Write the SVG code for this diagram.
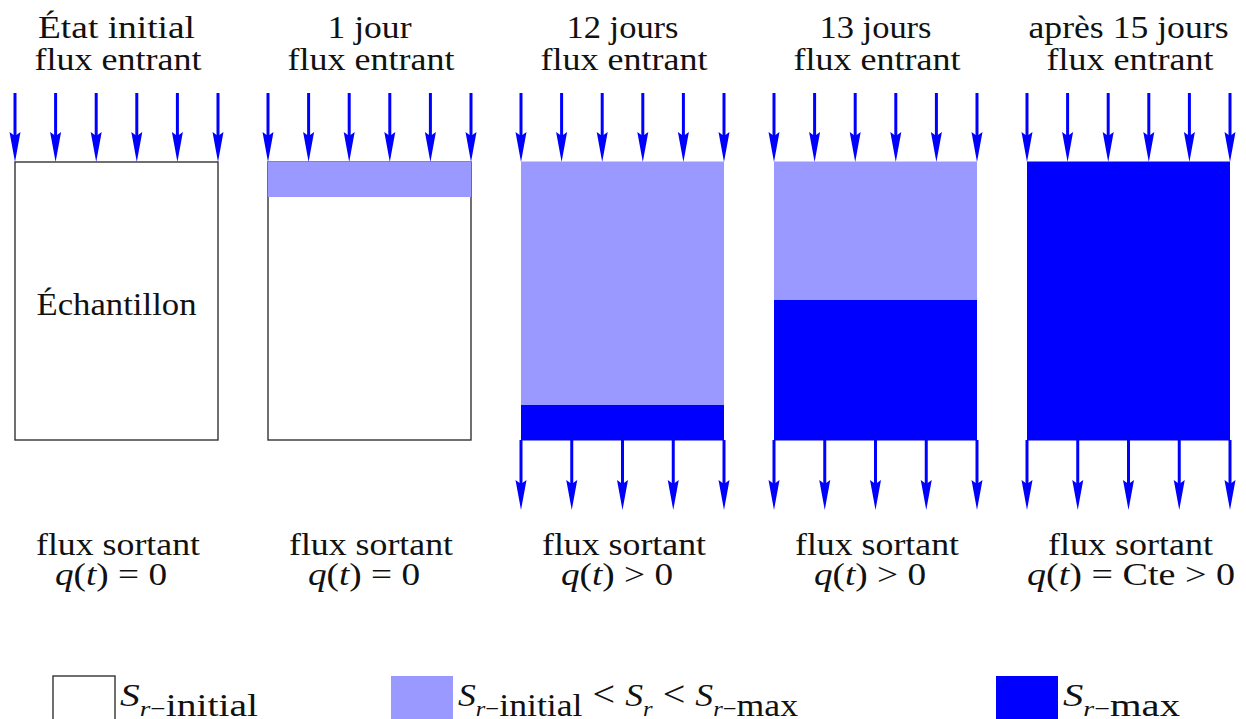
<svg xmlns="http://www.w3.org/2000/svg" width="1246" height="719" viewBox="0 0 1246 719">
<style>
  .t { font-family: "Liberation Serif", "Times New Roman", serif; font-size: 32px; fill: #111; text-anchor: middle; }
  .tl { font-family: "Liberation Serif", "Times New Roman", serif; font-size: 32px; fill: #111; }
  .it { font-style: italic; }
  .sub { font-size: 22px; }
  .rel { font-size: 36px; }
  .box { fill: #ffffff; stroke: #333; stroke-width: 1.4; }
  .light { fill: #9999ff; }
  .dark { fill: #0000ff; }
  .arr { stroke: #0000ff; stroke-width: 3; fill: none; marker-end: url(#ah); }
</style>
<defs>
  <marker id="ah" markerUnits="userSpaceOnUse" viewBox="0 0 30 12" markerWidth="30" markerHeight="12" refX="15" refY="6" orient="auto">
    <path d="M0,0.5 L30,6 L0,11.5 L4,6 Z" fill="#0000ff"/>
  </marker>
</defs>

<g id="panel1">
  <text class="t" x="116.5" y="38" textLength="157" lengthAdjust="spacingAndGlyphs">État initial</text>
  <text class="t" x="118" y="70" textLength="167" lengthAdjust="spacingAndGlyphs">flux entrant</text>
  <rect class="box" x="15" y="162" width="203" height="278"/>
  <text class="t" x="116.5" y="315" textLength="160" lengthAdjust="spacingAndGlyphs">Échantillon</text>
  <text class="t" x="118" y="555" textLength="164" lengthAdjust="spacingAndGlyphs">flux sortant</text>
  <text class="t" x="111" y="585" textLength="112" lengthAdjust="spacingAndGlyphs"><tspan class="it">q</tspan>(<tspan class="it">t</tspan>) = 0</text>
</g>

<g id="panel2">
  <text class="t" x="369.5" y="38" textLength="84" lengthAdjust="spacingAndGlyphs">1 jour</text>
  <text class="t" x="371" y="70" textLength="167" lengthAdjust="spacingAndGlyphs">flux entrant</text>
  <rect class="box" x="268" y="162" width="203" height="278"/>
  <rect class="light" x="268" y="161.5" width="203" height="35.5"/>
  <text class="t" x="371" y="555" textLength="164" lengthAdjust="spacingAndGlyphs">flux sortant</text>
  <text class="t" x="364" y="585" textLength="112" lengthAdjust="spacingAndGlyphs"><tspan class="it">q</tspan>(<tspan class="it">t</tspan>) = 0</text>
</g>

<g id="panel3">
  <text class="t" x="622.5" y="38" textLength="112" lengthAdjust="spacingAndGlyphs">12 jours</text>
  <text class="t" x="624" y="70" textLength="167" lengthAdjust="spacingAndGlyphs">flux entrant</text>
  <rect class="light" x="521" y="161.5" width="203" height="244"/>
  <rect class="dark" x="521" y="405" width="203" height="35.5"/>
  <text class="t" x="624" y="555" textLength="164" lengthAdjust="spacingAndGlyphs">flux sortant</text>
  <text class="t" x="617" y="585" textLength="112" lengthAdjust="spacingAndGlyphs"><tspan class="it">q</tspan>(<tspan class="it">t</tspan>) &gt; 0</text>
</g>

<g id="panel4">
  <text class="t" x="875.5" y="38" textLength="112" lengthAdjust="spacingAndGlyphs">13 jours</text>
  <text class="t" x="877" y="70" textLength="167" lengthAdjust="spacingAndGlyphs">flux entrant</text>
  <rect class="light" x="774" y="161.5" width="203" height="139"/>
  <rect class="dark" x="774" y="300" width="203" height="140.5"/>
  <text class="t" x="877" y="555" textLength="164" lengthAdjust="spacingAndGlyphs">flux sortant</text>
  <text class="t" x="870" y="585" textLength="112" lengthAdjust="spacingAndGlyphs"><tspan class="it">q</tspan>(<tspan class="it">t</tspan>) &gt; 0</text>
</g>

<g id="panel5">
  <text class="t" x="1128.5" y="38" textLength="200" lengthAdjust="spacingAndGlyphs">après 15 jours</text>
  <text class="t" x="1130" y="70" textLength="167" lengthAdjust="spacingAndGlyphs">flux entrant</text>
  <rect class="dark" x="1027" y="161.5" width="203" height="279"/>
  <text class="t" x="1130.5" y="555" textLength="165" lengthAdjust="spacingAndGlyphs">flux sortant</text>
  <text class="t" x="1131" y="585" textLength="208" lengthAdjust="spacingAndGlyphs"><tspan class="it">q</tspan>(<tspan class="it">t</tspan>) = Cte &gt; 0</text>
</g>

<g id="connectors">
  <line class="arr" x1="15" y1="93" x2="15" y2="147"/>
  <line class="arr" x1="55.6" y1="93" x2="55.6" y2="147"/>
  <line class="arr" x1="96.2" y1="93" x2="96.2" y2="147"/>
  <line class="arr" x1="136.8" y1="93" x2="136.8" y2="147"/>
  <line class="arr" x1="177.4" y1="93" x2="177.4" y2="147"/>
  <line class="arr" x1="218" y1="93" x2="218" y2="147"/>

  <line class="arr" x1="268" y1="93" x2="268" y2="147"/>
  <line class="arr" x1="308.6" y1="93" x2="308.6" y2="147"/>
  <line class="arr" x1="349.2" y1="93" x2="349.2" y2="147"/>
  <line class="arr" x1="389.8" y1="93" x2="389.8" y2="147"/>
  <line class="arr" x1="430.4" y1="93" x2="430.4" y2="147"/>
  <line class="arr" x1="471" y1="93" x2="471" y2="147"/>

  <line class="arr" x1="521" y1="93" x2="521" y2="147"/>
  <line class="arr" x1="561.6" y1="93" x2="561.6" y2="147"/>
  <line class="arr" x1="602.2" y1="93" x2="602.2" y2="147"/>
  <line class="arr" x1="642.8" y1="93" x2="642.8" y2="147"/>
  <line class="arr" x1="683.4" y1="93" x2="683.4" y2="147"/>
  <line class="arr" x1="724" y1="93" x2="724" y2="147"/>

  <line class="arr" x1="774" y1="93" x2="774" y2="147"/>
  <line class="arr" x1="814.6" y1="93" x2="814.6" y2="147"/>
  <line class="arr" x1="855.2" y1="93" x2="855.2" y2="147"/>
  <line class="arr" x1="895.8" y1="93" x2="895.8" y2="147"/>
  <line class="arr" x1="936.4" y1="93" x2="936.4" y2="147"/>
  <line class="arr" x1="977" y1="93" x2="977" y2="147"/>

  <line class="arr" x1="1027" y1="93" x2="1027" y2="147"/>
  <line class="arr" x1="1067.6" y1="93" x2="1067.6" y2="147"/>
  <line class="arr" x1="1108.2" y1="93" x2="1108.2" y2="147"/>
  <line class="arr" x1="1148.8" y1="93" x2="1148.8" y2="147"/>
  <line class="arr" x1="1189.4" y1="93" x2="1189.4" y2="147"/>
  <line class="arr" x1="1230" y1="93" x2="1230" y2="147"/>

  <line class="arr" x1="521" y1="440" x2="521" y2="495"/>
  <line class="arr" x1="571.75" y1="440" x2="571.75" y2="495"/>
  <line class="arr" x1="622.5" y1="440" x2="622.5" y2="495"/>
  <line class="arr" x1="673.25" y1="440" x2="673.25" y2="495"/>
  <line class="arr" x1="724" y1="440" x2="724" y2="495"/>

  <line class="arr" x1="774" y1="440" x2="774" y2="495"/>
  <line class="arr" x1="824.75" y1="440" x2="824.75" y2="495"/>
  <line class="arr" x1="875.5" y1="440" x2="875.5" y2="495"/>
  <line class="arr" x1="926.25" y1="440" x2="926.25" y2="495"/>
  <line class="arr" x1="977" y1="440" x2="977" y2="495"/>

  <line class="arr" x1="1027" y1="440" x2="1027" y2="495"/>
  <line class="arr" x1="1077.75" y1="440" x2="1077.75" y2="495"/>
  <line class="arr" x1="1128.5" y1="440" x2="1128.5" y2="495"/>
  <line class="arr" x1="1179.25" y1="440" x2="1179.25" y2="495"/>
  <line class="arr" x1="1230" y1="440" x2="1230" y2="495"/>
</g>

<g id="legend-initial">
  <rect class="box" x="53" y="676" width="62" height="55"/>
  <text class="tl" x="120" y="706" textLength="138" lengthAdjust="spacingAndGlyphs"><tspan class="it">S</tspan><tspan class="it sub" dy="10">r</tspan><tspan class="sub">−</tspan><tspan>initial</tspan></text>
</g>
<g id="legend-mid">
  <rect class="light" x="391" y="676" width="62" height="55"/>
  <text class="tl" x="458" y="706" textLength="340" lengthAdjust="spacingAndGlyphs"><tspan class="it">S</tspan><tspan class="it sub" dy="10">r</tspan><tspan class="sub">−</tspan><tspan>initial</tspan><tspan class="rel" dy="-10"> &lt; </tspan><tspan class="it">S</tspan><tspan class="it sub" dy="10">r</tspan><tspan class="rel" dy="-10"> &lt; </tspan><tspan class="it">S</tspan><tspan class="it sub" dy="10">r</tspan><tspan class="sub">−</tspan><tspan>max</tspan></text>
</g>
<g id="legend-max">
  <rect class="dark" x="996" y="676" width="62" height="55"/>
  <text class="tl" x="1063" y="706" textLength="117" lengthAdjust="spacingAndGlyphs"><tspan class="it">S</tspan><tspan class="it sub" dy="10">r</tspan><tspan class="sub">−</tspan><tspan>max</tspan></text>
</g>
</svg>
